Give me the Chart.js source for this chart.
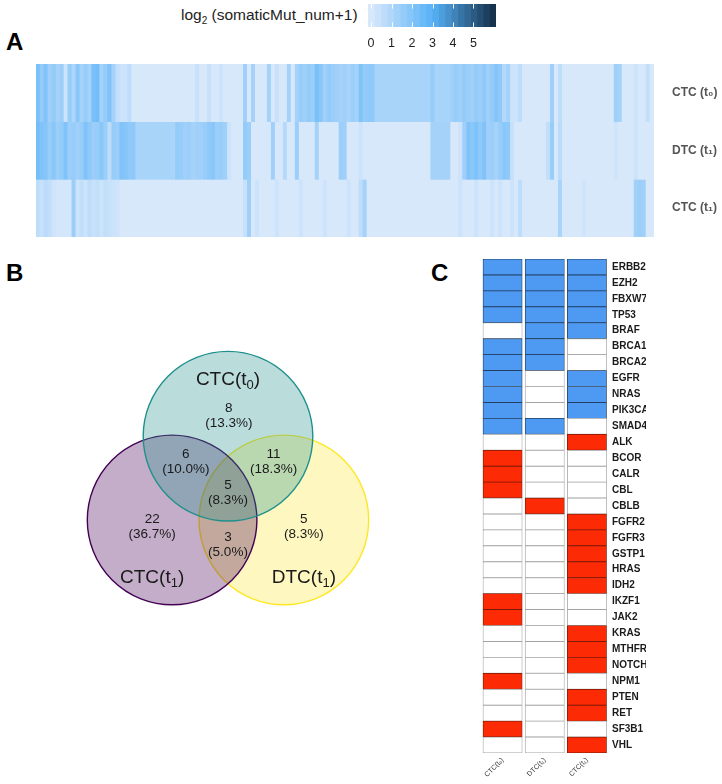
<!DOCTYPE html>
<html>
<head>
<meta charset="utf-8">
<script src="https://cdn.jsdelivr.net/npm/chart.js"></script>
<style>
  body { margin: 0; background: #fff; font-family: "Liberation Sans", Arial, sans-serif; }
  #page { position: relative; width: 722px; height: 784px; overflow: hidden; }
  canvas, .txt { position: absolute; }
  .panel { font-weight: bold; font-size: 24px; line-height: 24px; color: #000; }
</style>
<script>
  // ---- panel A : log2(somaticMut_num+1) per genomic bin ----
  const heatRowLabels = ['CTC (t₀)', 'DTC (t₁)', 'CTC (t₁)'];
  const ctcT0Mut = [
    2.2,1.6,2.0,1.3,1.6,1.2,1.4,0.3,1.5,1.0,
    1.8,1.2,1.5,1.2,2.2,2.3,1.2,1.6,2.0,1.2,
    0.5,0.3,0.3,0.6,0,0,0,0,0,0,
    0,0,0,0,0,0,0,0,0,0,
    0.4,0,0,0.4,0,0,0.3,0,0,0,
    0,0,1.3,0,1.2,0,0,0,1.2,0,
    0.4,0,0,1.2,0,1.2,1.5,1.3,1.6,1.4,
    2.2,1.8,1.3,1.6,1.4,1.3,1.2,1.3,1.1,1.4,
    1.2,2.0,1.6,1.7,1.7,1.1,1.1,1.1,1.1,1.1,
    1.1,1.1,1.1,1.1,1.1,1.1,1.1,1.1,1.1,1.5,
    1.1,1.1,1.1,1.1,1.3,1.5,1.3,1.6,1.4,1.3,
    1.6,1.4,1.7,1.3,1.6,1.9,1.7,0.8,1.2,0.3,
    0.3,0.6,0,0,0,0,0,0,0,1.3,
    0,0.6,0,0,0,0,0,0,0,0,
    0,0,0,0,0,1.3,1.2,0,0,0,
    0.3,0,0,0.5,0
  ];
  const dtcT1Mut = [
    2.3,2.0,1.9,1.5,1.8,1.4,1.6,2.0,1.4,1.5,
    1.3,1.5,2.0,1.7,1.4,1.5,1.8,1.4,0.6,1.5,
    1.4,2.0,1.9,1.7,1.7,1.1,1.1,1.1,1.1,1.1,
    1.1,1.1,1.1,1.1,1.1,1.6,1.5,1.3,1.4,1.2,
    1.3,1.3,1.5,1.7,1.8,1.4,1.5,1.3,0.3,0,
    0,0,1.6,1.4,0,0,0,0,0,1.3,
    0,0,0.8,0,0,1.4,0,0,0,0,
    1.2,0,0,0,0,0,1.4,1.3,0,0,
    0,0.3,0,0,0,0,0,0,0,0,
    0,0,0,0,0,0,0,0,0,1.2,
    1.2,1.2,1.2,1.2,0,0,0.3,1.3,2.0,1.8,
    2.1,1.7,2.0,1.3,1.4,1.2,1.5,1.8,1.7,0.4,
    0,0,0,0,0,0,0,0,0.5,1.5,
    0,0.7,0,0,0,0,0,0,0,0,
    0,0,0,0,0,0.2,0,0,0,0,
    0.3,0,0,0,0
  ];
  const ctcT1Mut = [
    0.6,0.4,0.7,0.5,0.2,0.1,0.1,0.1,0.1,1.4,
    0.3,0.5,0.3,0.6,0.4,0.5,0.3,0.5,0.4,0.3,
    0.2,0,0,0,0,0,0,0,0,0,
    0,0,0,0,0,0,0,0,0,0,
    0,0,0,0,0,0,0,0,0,0,
    0,0,0.4,1.3,0,0.3,0,0,0,0,
    0.3,0,0,0,0,0,0.3,0,0,0,
    0,0,0.3,0,0,0,0,0,0.3,0,
    0,0.6,1.2,0,0,0,0,0,0,0,
    0,0,0,0,0,0,0,0,0,0,
    0,0,0,0,0,0,0.3,0,0,0,
    0.3,0,0,0,0.3,0,0.3,0,0,0.3,
    0,0.6,0,0,0,0,0,0,0,0,
    0,1.1,0,0,0,0,0,0.2,0,0,
    0,0,0,0,0,0,0,0,0,0,
    1.3,1.4,1.3,0,0
  ];
  const legendTicks = [0, 1, 2, 3, 4, 5];
  const legendMin = -0.15, legendMax = 6.1;

  // ---- panel B : Venn counts ----
  const vennSets = ['CTC(t0)', 'CTC(t1)', 'DTC(t1)'];
  const vennRegions = ['CTC(t0) only', 'CTC(t0)&CTC(t1)', 'CTC(t0)&DTC(t1)', 'all three',
                       'CTC(t1) only', 'DTC(t1) only', 'CTC(t1)&DTC(t1)'];
  const vennCounts = [8, 6, 11, 5, 22, 5, 3];

  // ---- panel C : gene status (0 none, 1 blue, 2 red) ----
  const genes = ['ERBB2','EZH2','FBXW7','TP53','BRAF','BRCA1','BRCA2','EGFR','NRAS','PIK3CA','SMAD4',
                 'ALK','BCOR','CALR','CBL','CBLB','FGFR2','FGFR3','GSTP1','HRAS','IDH2','IKZF1','JAK2',
                 'KRAS','MTHFR','NOTCH1','NPM1','PTEN','RET','SF3B1','VHL'];
  const samples = ['CTC(t₀)', 'DTC(t₁)', 'CTC(t₁)'];
  const ctcT0Status = [1,1,1,1,0,1,1,1,1,1,1,0,2,2,2,0,0,0,0,0,0,2,2,0,0,0,2,0,0,2,0];
  const dtcT1Status = [1,1,1,1,1,1,1,0,0,0,1,0,0,0,0,2,0,0,0,0,0,0,0,0,0,0,0,0,0,0,0];
  const ctcT1Status = [1,1,1,1,1,0,0,1,1,1,0,2,0,0,0,0,2,2,2,2,2,0,0,2,2,2,0,2,2,0,2];
</script>
</head>
<body>
<div id="page">
  <div class="txt panel" style="left:6px;top:30px">A</div>
  <div class="txt panel" style="left:6px;top:261px">B</div>
  <div class="txt panel" style="left:431px;top:261px">C</div>
  <div class="txt" style="left:181px;top:7px;font-size:15.5px;line-height:16px;color:#222">log<sub style="font-size:10px">2</sub> (somaticMut_num+1)</div>
  <canvas id="scaleBar" width="145" height="52" style="left:360px;top:0"></canvas>
  <canvas id="heat" width="722" height="185" style="left:0;top:58px"></canvas>
  <canvas id="venn" width="400" height="400" style="left:28px;top:300px"></canvas>
  <canvas id="genes" width="176" height="532" style="left:470px;top:252px"></canvas>
</div>
<script>
  const FONT = '"Liberation Sans", Arial, sans-serif';
  Chart.defaults.font.family = FONT;
  Chart.defaults.animation = false;
  Chart.defaults.responsive = false;
  Chart.defaults.plugins.legend.display = false;
  Chart.defaults.plugins.tooltip.enabled = false;

  // kill the automatic edge padding that Chart.js adds around tick labels
  function noPad(s) { s.paddingTop = 0; s.paddingBottom = 0; s.paddingLeft = 0; s.paddingRight = 0; }

  // light blue -> bright blue -> navy, like the ggplot gradient
  const colourStops = [[0, [216, 232, 251]], [3, [86, 177, 247]], [6.1, [19, 43, 67]]];
  function mutColour(v) {
    v = Math.max(0, Math.min(v, 6.1));
    let i = 0;
    while (i < colourStops.length - 2 && v > colourStops[i + 1][0]) i++;
    const [a, ca] = colourStops[i], [b, cb] = colourStops[i + 1];
    const t = (v - a) / (b - a);
    const c = ca.map((x, k) => Math.round(x + (cb[k] - x) * t));
    return 'rgb(' + c.join(',') + ')';
  }

  // ---------- colour bar ----------
  const binCount = 20;
  const binStep = (legendMax - legendMin) / binCount;
  const bins = [];
  for (let i = 0; i < binCount; i++) bins.push(legendMin + i * binStep);

  new Chart(document.getElementById('scaleBar'), {
    type: 'bar',
    data: {
      labels: ['scale'],
      datasets: bins.map(b => ({
        data: [[b, b + binStep + 0.01]],
        backgroundColor: mutColour(b + binStep / 2),
        borderWidth: 0, grouped: false, barPercentage: 1, categoryPercentage: 1
      }))
    },
    options: {
      indexAxis: 'y',
      layout: { padding: { left: 8, right: 9, top: 4, bottom: 0 } },
      scales: {
        y: { display: false },
        x: {
          min: legendMin, max: legendMax,
          grid: { display: false, drawTicks: false }, border: { display: false },
          afterBuildTicks: s => { s.ticks = legendTicks.map(v => ({ value: v })); },
          afterFit: s => { s.height = 25; noPad(s); },
          ticks: { padding: 9, color: '#222', font: { size: 12.5 } }
        }
      }
    },
    plugins: [{
      id: 'tickMarks',
      afterDatasetsDraw(chart) {
        const { ctx, chartArea: a, scales: { x } } = chart;
        const h = (a.bottom - a.top) / 5;
        ctx.save();
        ctx.strokeStyle = 'rgba(255,255,255,0.9)';
        ctx.lineWidth = 1;
        legendTicks.forEach(v => {
          const px = Math.round(x.getPixelForValue(v)) + 0.5;
          ctx.beginPath();
          ctx.moveTo(px, a.top); ctx.lineTo(px, a.top + h);
          ctx.moveTo(px, a.bottom - h); ctx.lineTo(px, a.bottom);
          ctx.stroke();
        });
        ctx.restore();
      }
    }]
  });

  // ---------- heatmap (panel A) ----------
  const heatRows = [ctcT0Mut, dtcT1Mut, ctcT1Mut];
  const binIds = ctcT0Mut.map((_, i) => 'bin' + (i + 1));

  new Chart(document.getElementById('heat'), {
    type: 'bar',
    data: {
      labels: binIds,
      datasets: heatRows.map((vals, r) => ({
        label: heatRowLabels[r],
        data: vals.map(() => [r, r + 1]),
        backgroundColor: vals.map(mutColour),
        borderWidth: 0, grouped: false, barPercentage: 1, categoryPercentage: 1
      }))
    },
    options: {
      layout: { padding: { left: 36, top: 6, bottom: 6, right: 0 } },
      scales: {
        x: { display: false },
        y: {
          position: 'right', min: 0, max: 3, reverse: true,
          grid: { display: false, drawTicks: false }, border: { display: false },
          afterBuildTicks: s => { s.ticks = heatRowLabels.map((_, i) => ({ value: i + 0.5 })); },
          afterFit: s => { s.width = 68; noPad(s); },
          ticks: {
            padding: 18, color: '#555', font: { size: 12, weight: 'bold' },
            callback: (v, i) => heatRowLabels[i]
          }
        }
      }
    },
    plugins: [{
      id: 'baseFill',
      beforeDatasetsDraw(chart) {
        const { ctx, chartArea: a } = chart;
        ctx.save();
        ctx.fillStyle = mutColour(0);
        ctx.fillRect(a.left, a.top, a.right - a.left, a.bottom - a.top);
        ctx.restore();
      }
    }]
  });

  // ---------- Venn (panel B) ----------
  const vennTotal = vennCounts.reduce((s, v) => s + v, 0);
  // classic three-circle layout, in units of one circle radius
  const vennCentres = [[0, 0.663], [-0.663, -0.331], [0.663, -0.331]];
  const vennStroke = ['#21908d', '#440154', '#fde725'];
  const vennFill = ['rgba(33,144,141,0.31)', 'rgba(68,1,84,0.32)', 'rgba(253,231,37,0.29)'];
  const regionAnchor = [[0.01, 0.91], [-0.5, 0.355], [0.54, 0.355], [0, -0.01],
                        [-0.9, -0.41], [0.9, -0.41], [0, -0.63]];
  const titleAnchor = [[0, 1.33], [-0.9, -1.02], [0.9, -1.02]];
  const vennXRange = [-1.35, 1.35], vennYRange = [-1.444, 1.256];
  const vennBorder = 1.4;
  const vennCanvas = document.getElementById('venn');
  // Chart.js insets the plot area by the bubble radius, so one unit of the
  // hidden axis = (canvas - 2 * radius) / range; solve for the radius.
  const vennUnitPx = (vennCanvas.width - vennBorder) / (vennXRange[1] - vennXRange[0] + 2);

  function drawSubLabel(ctx, text, x, y, size) {
    const m = text.match(/^(.*\(t)(\d)(\))$/);
    const main = m[1], sub = m[2], close = m[3];
    ctx.font = size + 'px ' + FONT;
    const w1 = ctx.measureText(main).width, w3 = ctx.measureText(close).width;
    ctx.font = Math.round(size * 0.7) + 'px ' + FONT;
    const w2 = ctx.measureText(sub).width;
    const left = x - (w1 + w2 + w3) / 2;
    ctx.textAlign = 'left';
    ctx.textBaseline = 'middle';
    ctx.font = size + 'px ' + FONT;
    ctx.fillText(main, left, y);
    ctx.font = Math.round(size * 0.7) + 'px ' + FONT;
    ctx.fillText(sub, left + w1, y + size * 0.3);
    ctx.font = size + 'px ' + FONT;
    ctx.fillText(close, left + w1 + w2, y);
  }

  new Chart(vennCanvas, {
    type: 'bubble',
    data: {
      datasets: vennSets.map((name, i) => ({
        label: name,
        data: [{ x: vennCentres[i][0], y: vennCentres[i][1], r: vennUnitPx }],
        backgroundColor: vennFill[i],
        borderColor: vennStroke[i],
        borderWidth: vennBorder,
        clip: false
      }))
    },
    options: {
      layout: { padding: 0 },
      scales: {
        x: { display: false, min: vennXRange[0], max: vennXRange[1] },
        y: { display: false, min: vennYRange[0], max: vennYRange[1] }
      }
    },
    plugins: [{
      id: 'vennText',
      afterDatasetsDraw(chart) {
        const { ctx, scales: { x, y } } = chart;
        ctx.save();
        ctx.fillStyle = '#1a1a1a';
        ctx.textAlign = 'center';
        ctx.textBaseline = 'middle';
        ctx.font = '13.5px ' + FONT;
        vennCounts.forEach((n, i) => {
          const px = x.getPixelForValue(regionAnchor[i][0]);
          const py = y.getPixelForValue(regionAnchor[i][1]);
          ctx.fillText(String(n), px, py - 7.5);
          ctx.fillText('(' + (100 * n / vennTotal).toFixed(1) + '%)', px, py + 7.5);
        });
        vennSets.forEach((name, i) => {
          drawSubLabel(ctx, name, x.getPixelForValue(titleAnchor[i][0]), y.getPixelForValue(titleAnchor[i][1]), 19);
        });
        ctx.restore();
      }
    }]
  });

  // ---------- gene matrix (panel C) ----------
  const statusCols = [ctcT0Status, dtcT1Status, ctcT1Status];
  const statusFill = ['#ffffff', '#4e9af3', '#fc2a05'];
  const statusEdge = ['#a3a3a3', '#233f63', '#7d1a06'];

  new Chart(document.getElementById('genes'), {
    type: 'bar',
    data: {
      labels: genes,
      datasets: statusCols.map((col, c) => ({
        label: samples[c],
        data: col.map(() => [c + 0.035, c + 0.965]),
        backgroundColor: col.map(s => statusFill[s]),
        borderColor: col.map(s => statusEdge[s]),
        borderWidth: 0.8, borderSkipped: false,
        grouped: false, barPercentage: 1, categoryPercentage: 1
      }))
    },
    options: {
      indexAxis: 'y',
      layout: { padding: { left: 11.5, top: 7, right: 0, bottom: 0 } },
      scales: {
        x: {
          min: 0, max: 3,
          grid: { display: false, drawTicks: false }, border: { display: false },
          afterBuildTicks: s => { s.ticks = samples.map((_, i) => ({ value: i + 0.5 })); },
          afterFit: s => { s.height = 31; noPad(s); },
          ticks: {
            autoSkip: false, minRotation: 45, maxRotation: 45, padding: 3,
            color: '#333', font: { size: 7 },
            callback: (v, i) => samples[i]
          }
        },
        y: {
          position: 'right',
          grid: { display: false, drawTicks: false }, border: { display: false },
          afterFit: s => { s.width = 38; noPad(s); },
          ticks: { autoSkip: false, padding: 4, color: '#1a1a1a', font: { size: 10, weight: 'bold' } }
        }
      }
    }
  });
</script>
</body>
</html>
